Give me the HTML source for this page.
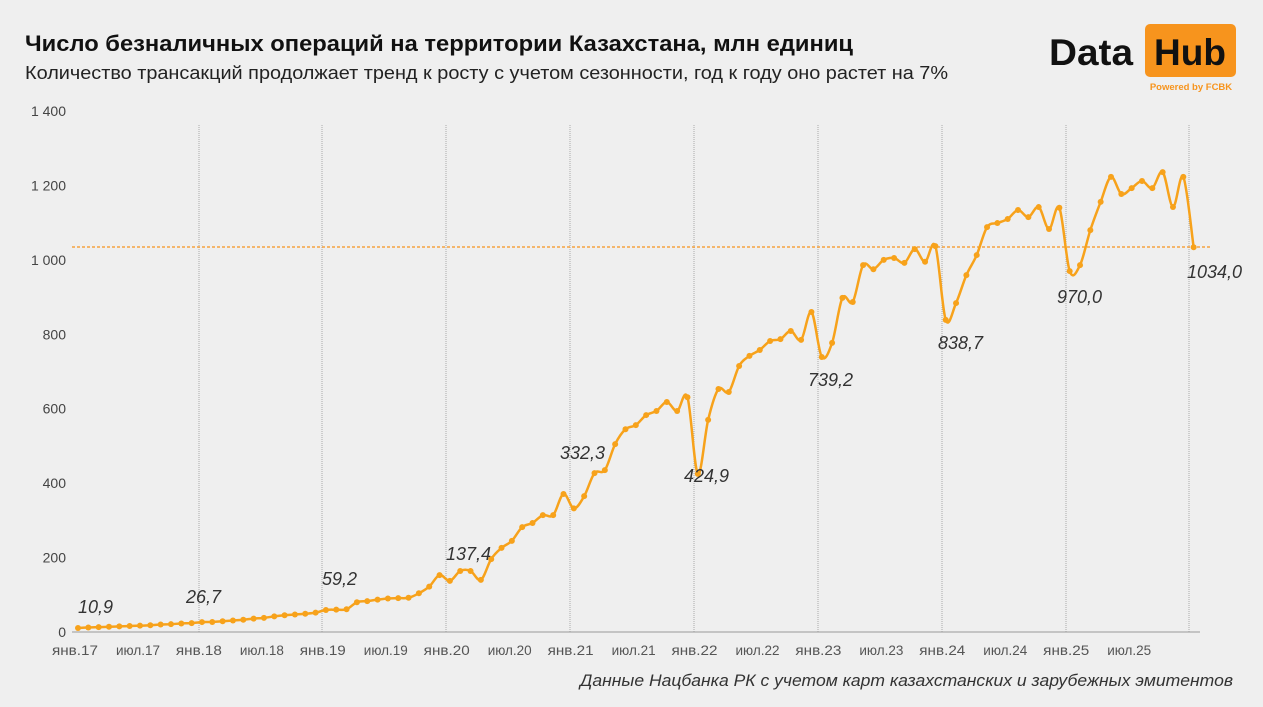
<!DOCTYPE html>
<html><head><meta charset="utf-8"><style>
body{margin:0;background:#efefef;width:1263px;height:707px;overflow:hidden;font-family:"Liberation Sans",sans-serif}
</style></head><body>
<svg id="s" width="1263" height="707" xmlns="http://www.w3.org/2000/svg" style="position:absolute;left:0;top:0">
<rect width="1263" height="707" fill="#efefef"/>
<text x="25" y="51" font-size="22" font-weight="bold" fill="#111" textLength="828" lengthAdjust="spacingAndGlyphs">Число безналичных операций на территории Казахстана, млн единиц</text>
<text x="25" y="79" font-size="18.5" fill="#222" textLength="923" lengthAdjust="spacingAndGlyphs">Количество трансакций продолжает тренд к росту с учетом сезонности, год к году оно растет на 7%</text>
<text x="1049" y="65" font-size="37" font-weight="bold" fill="#111" textLength="84" lengthAdjust="spacingAndGlyphs">Data</text>
<rect x="1145" y="24" width="91" height="53" rx="5" fill="#f7941d"/>
<text x="1190" y="65" font-size="37" font-weight="bold" fill="#111" text-anchor="middle">Hub</text>
<text x="1191" y="90" font-size="9.5" font-weight="bold" fill="#f7941d" text-anchor="middle">Powered by FCBK</text>
<g id="grid"></g>
<line x1="72" y1="632" x2="1200" y2="632" stroke="#999" stroke-width="1"/>
<line x1="72" y1="247" x2="1210" y2="247" stroke="#f7941d" stroke-width="1.2" stroke-dasharray="3,2"/>
<g id="yl" font-size="14" fill="#444" text-anchor="end"></g>
<g id="xl" font-size="14" fill="#555" text-anchor="middle"></g>
<path id="ln" fill="none" stroke="#f7a21b" stroke-width="2.5"/>
<g id="dots" fill="#f7a21b"></g>
<g font-size="18" font-style="italic" fill="#333">
<text x="78" y="613">10,9</text>
<text x="186" y="603">26,7</text>
<text x="322" y="585">59,2</text>
<text x="446" y="560">137,4</text>
<text x="560" y="459">332,3</text>
<text x="684" y="482">424,9</text>
<text x="808" y="386">739,2</text>
<text x="938" y="349">838,7</text>
<text x="1057" y="303">970,0</text>
<text x="1187" y="278">1034,0</text>
</g>
<text x="1233" y="686" font-size="17" font-style="italic" fill="#333" text-anchor="end" textLength="653" lengthAdjust="spacingAndGlyphs">Данные Нацбанка РК с учетом карт казахстанских и зарубежных эмитентов</text>
</svg>
<script>
var v=[10.9,12,13,14,15,16,17,18,20,21,23,24,
26.7,27,29,31,33,36,38,42,45,47,49,52,
59.2,60,61,80,83,87,90,91,92,104,122,153,
137.4,164,164,140,196,226,245,282,293,314,314,371,
332.3,365,427,435,505,545,556,583,594,618,594,631,
424.9,570,653,645,715,742,758,782,787,809,785,860,
739.2,777,898,887,986,975,1000,1005,992,1029,995,1037,
838.7,884,959,1013,1088,1099,1110,1134,1115,1142,1083,1140,
970,986,1080,1156,1223,1177,1193,1212,1193,1236,1142,1223,1034];
var NS="http://www.w3.org/2000/svg";
function X(i){return 78+i*10.33}function Y(a){return 632-a*0.3721}
function el(t,a,p,txt){var e=document.createElementNS(NS,t);for(var k in a)e.setAttribute(k,a[k]);if(txt)e.textContent=txt;document.getElementById(p).appendChild(e);}
var gx=[199,322,446,570,694,818,942,1066,1189];
gx.forEach(function(x){el('line',{x1:x,y1:125,x2:x,y2:632,stroke:'#aaa','stroke-width':1,'stroke-dasharray':'1,1'},'grid')});
for(var k=0;k<=7;k++){el('text',{x:66,y:Y(k*200)+5},'yl',k==0?'0':(k*200>=1000?('1 '+String(k*200-1000).padStart(3,'0')):String(k*200)))}
var yrs=['17','18','19','20','21','22','23','24','25'];
yrs.forEach(function(y,j){el('text',{x:75+j*123.9,y:655,textLength:46,lengthAdjust:'spacingAndGlyphs'},'xl','янв.'+y);el('text',{x:138+j*123.9,y:655,textLength:44,lengthAdjust:'spacingAndGlyphs'},'xl','июл.'+y)});
var p=[];for(var i=0;i<v.length;i++)p.push([X(i),Y(v[i])]);
var d='M'+p[0][0]+','+p[0][1];
for(var i=0;i<p.length-1;i++){var a=p[Math.max(i-1,0)],b=p[i],c=p[i+1],e=p[Math.min(i+2,p.length-1)];
d+=' C'+(b[0]+(c[0]-a[0])/6)+','+(b[1]+(c[1]-a[1])/6)+' '+(c[0]-(e[0]-b[0])/6)+','+(c[1]-(e[1]-b[1])/6)+' '+c[0]+','+c[1];}
document.getElementById('ln').setAttribute('d',d);
p.forEach(function(q){el('circle',{cx:q[0],cy:q[1],r:3},'dots')});
</script>
</body></html>
